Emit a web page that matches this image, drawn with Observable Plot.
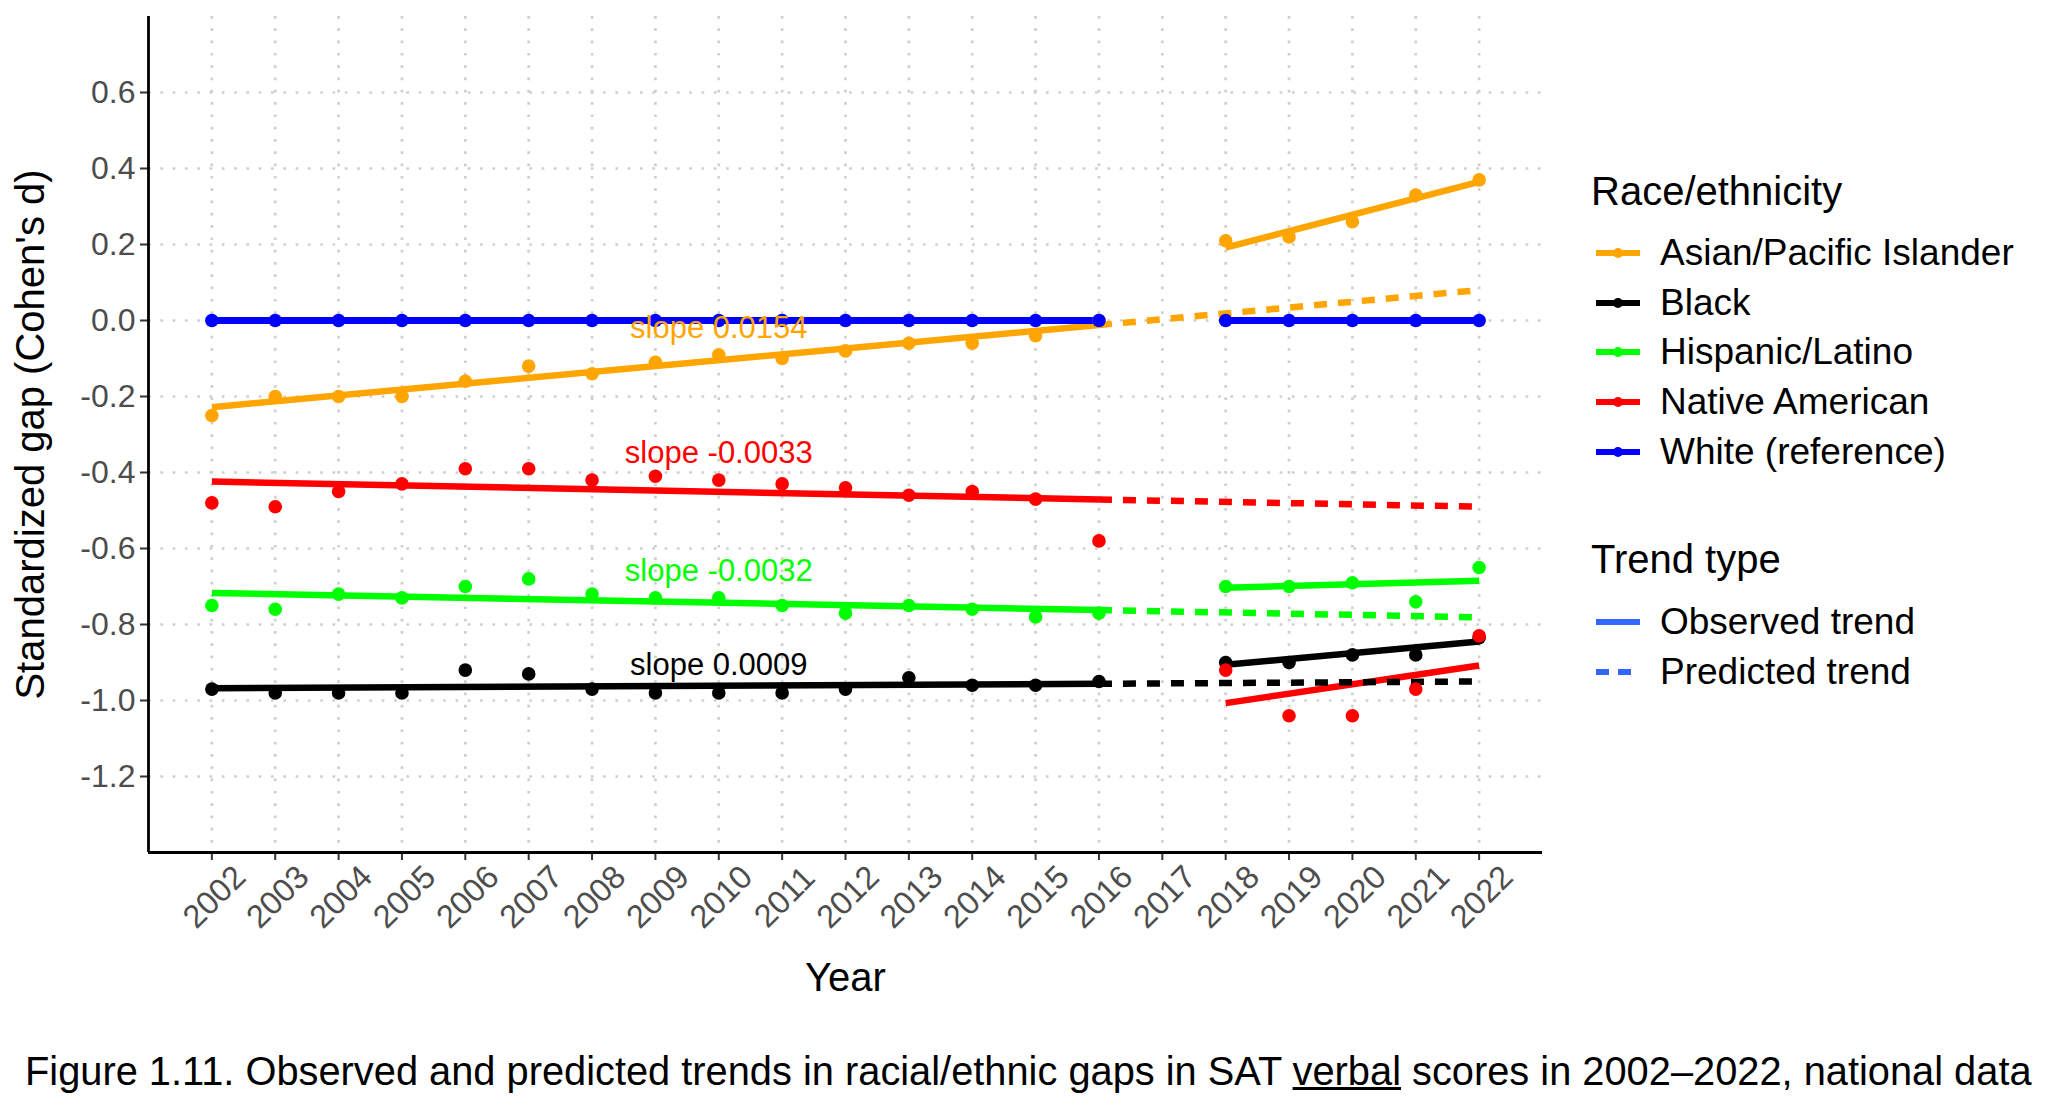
<!DOCTYPE html>
<html>
<head>
<meta charset="utf-8">
<script src="https://cdn.jsdelivr.net/npm/d3@7"></script>
<script src="https://cdn.jsdelivr.net/npm/@observablehq/plot@0.6"></script>
<style>
  html, body { margin: 0; padding: 0; background: #fff; }
  body { font-family: "Liberation Sans", Arial, Helvetica, sans-serif; }
  #wrap { position: relative; width: 2048px; height: 1117px; overflow: hidden; background: #fff; }
  #chart { position: absolute; left: 0; top: 0; }
  .legend { position: absolute; left: 1591px; color: #000; }
  .ltitle { position: absolute; white-space: nowrap; font-size: 40px; line-height: 40px; }
  .litem { position: absolute; white-space: nowrap; font-size: 37px; line-height: 40px; }
  .litem svg { position: absolute; left: 5px; top: 0; }
  .litem span { position: absolute; left: 69px; top: 0; }
  #caption { position: absolute; left: 25px; top: 1049px; font-size: 39.8px; line-height: 44px; color: #000; white-space: nowrap; }
</style>
</head>
<body>
<div id="wrap">
  <div id="chart"></div>
  <div class="legend" id="legend"></div>
  <div id="caption">Figure 1.11. Observed and predicted trends in racial/ethnic gaps in SAT <u>verbal</u> scores in 2002–2022, national data</div>
</div>
<script>
// ---------------- data ----------------
const years = [2002, 2003, 2004, 2005, 2006, 2007, 2008, 2009, 2010, 2011, 2012, 2013, 2014, 2015, 2016,
               2018, 2019, 2020, 2021, 2022];
const axisYears = [2002, 2003, 2004, 2005, 2006, 2007, 2008, 2009, 2010, 2011, 2012, 2013, 2014, 2015, 2016,
                   2017, 2018, 2019, 2020, 2021, 2022];
const yTicks = [-1.2, -1.0, -0.8, -0.6, -0.4, -0.2, 0.0, 0.2, 0.4, 0.6];

const groups = ["Asian/Pacific Islander", "Black", "Hispanic/Latino", "Native American", "White (reference)"];
const groupColors = ["#FFA500", "#000000", "#00FF00", "#FF0000", "#0000FF"];

const asian    = [-0.25, -0.20, -0.20, -0.20, -0.16, -0.12, -0.14, -0.11, -0.09, -0.10, -0.08, -0.06, -0.06, -0.04, 0.00,
                   0.21, 0.22, 0.26, 0.33, 0.37];
const black    = [-0.97, -0.98, -0.98, -0.98, -0.92, -0.93, -0.97, -0.98, -0.98, -0.98, -0.97, -0.94, -0.96, -0.96, -0.95,
                  -0.90, -0.90, -0.88, -0.88, -0.835];
const hispanic = [-0.75, -0.76, -0.72, -0.73, -0.70, -0.68, -0.72, -0.73, -0.73, -0.75, -0.77, -0.75, -0.76, -0.78, -0.77,
                  -0.70, -0.70, -0.69, -0.74, -0.65];
const native   = [-0.48, -0.49, -0.45, -0.43, -0.39, -0.39, -0.42, -0.41, -0.42, -0.43, -0.44, -0.46, -0.45, -0.47, -0.58,
                  -0.92, -1.04, -1.04, -0.97, -0.83];
const white    = [0, 0, 0, 0, 0, 0, 0, 0, 0, 0, 0, 0, 0, 0, 0,
                  0, 0, 0, 0, 0];

// fitted trends, for the four non-reference groups
const trendGroups = ["Asian/Pacific Islander", "Black", "Hispanic/Latino", "Native American"];
const earlyFitYears = [2002, 2016];
const earlyFitStart = [-0.228, -0.968, -0.717, -0.424];
const earlyFitEnd   = [-0.012, -0.956, -0.762, -0.471];
const predYears = [2016, 2022];
const predEnd = [0.080, -0.950, -0.781, -0.490];
const lateFitYears = [2018, 2022];
const lateFitStart = [0.192, -0.906, -0.703, -1.007];
const lateFitEnd   = [0.365, -0.845, -0.685, -0.908];

const slopeText = ["slope 0.0154", "slope 0.0009", "slope -0.0032", "slope -0.0033"];
const slopeX = 2010;
const slopeY = [-0.020, -0.908, -0.659, -0.348];

const trendLegend = ["Observed trend", "Predicted trend"];
const trendLegendColor = "#3366FF";

// ---------------- build tables ----------------
const seriesValues = [asian, black, hispanic, native, white];
const points = [];
groups.forEach((g, gi) => {
  years.forEach((yr, i) => {
    const v = seriesValues[gi][i];
    if (v != null) points.push({group: g, year: yr, value: v, period: yr <= 2016 ? "early" : "late"});
  });
});
const whiteRows = points.filter(d => d.group === "White (reference)");
const otherPoints = points.filter(d => d.group !== "White (reference)");

const earlyLinks = trendGroups.map((g, i) => ({group: g, x1: earlyFitYears[0], y1: earlyFitStart[i], x2: earlyFitYears[1], y2: earlyFitEnd[i]}));
const predLinks  = trendGroups.map((g, i) => ({group: g, x1: predYears[0], y1: earlyFitEnd[i], x2: predYears[1], y2: predEnd[i]}));
const lateLinks  = trendGroups.map((g, i) => ({group: g, x1: lateFitYears[0], y1: lateFitStart[i], x2: lateFitYears[1], y2: lateFitEnd[i]}));
const labels = trendGroups.map((g, i) => ({group: g, text: slopeText[i], x: slopeX, y: slopeY[i]}));

// ---------------- plot ----------------
const W = 2048, H = 1030;
const chart = Plot.plot({
  width: W,
  height: H,
  marginLeft: 148,
  marginRight: 506,
  marginTop: 16,
  marginBottom: 178,
  style: {fontFamily: '"Liberation Sans", Arial, Helvetica, sans-serif', background: "#fff", overflow: "visible"},
  x: {type: "linear", domain: [2001, 2023]},
  y: {domain: [-1.4, 0.8]},
  color: {domain: groups, range: groupColors},
  marks: [
    Plot.gridY(yTicks, {stroke: "#cfcfcf", strokeOpacity: 1, strokeWidth: 2.7, strokeDasharray: "2.7,9.6"}),
    Plot.gridX(axisYears, {stroke: "#cfcfcf", strokeOpacity: 1, strokeWidth: 2.7, strokeDasharray: "2.7,9.6"}),
    Plot.axisY(yTicks, {tickSize: 8, tickPadding: 5, stroke: "#333333", strokeWidth: 2, fill: "#4D4D4D",
      fontSize: 32, label: null, tickFormat: d => d.toFixed(1)}),
    Plot.axisX(axisYears, {tickSize: 8, stroke: "#333333", strokeWidth: 2, label: null, tickFormat: () => ""}),
    Plot.text(axisYears, {x: d => d, text: d => String(d), frameAnchor: "bottom", rotate: -45,
      dx: 10, dy: 52, fontSize: 32.5, fill: "#4D4D4D", textAnchor: "middle"}),
    // trend lines
    Plot.link(earlyLinks, {x1: "x1", y1: "y1", x2: "x2", y2: "y2", stroke: "group", strokeWidth: 6.5, strokeLinecap: "butt"}),
    Plot.link(lateLinks, {x1: "x1", y1: "y1", x2: "x2", y2: "y2", stroke: "group", strokeWidth: 6.5, strokeLinecap: "butt"}),
    Plot.link(predLinks, {x1: "x1", y1: "y1", x2: "x2", y2: "y2", stroke: "group", strokeWidth: 6.5, strokeLinecap: "butt", strokeDasharray: "13,11"}),
    Plot.line(whiteRows, {x: "year", y: "value", z: "period", stroke: "group", strokeWidth: 7, strokeLinecap: "butt"}),
    // points
    Plot.dot(otherPoints, {x: "year", y: "value", fill: "group", r: 6.8}),
    Plot.dot(whiteRows, {x: "year", y: "value", fill: "group", r: 6.8}),
    // slope labels
    Plot.text(labels, {x: "x", y: "y", text: "text", fill: "group", fontSize: 31, textAnchor: "middle"}),
    // axis lines
    Plot.ruleX([2001], {stroke: "#000", strokeWidth: 2.8}),
    Plot.ruleY([-1.4], {stroke: "#000", strokeWidth: 2.8}),
    // axis titles
    Plot.text(["Standardized gap (Cohen's d)"], {frameAnchor: "left", rotate: -90, dx: -117, fontSize: 40, fill: "#000", textAnchor: "middle"}),
    Plot.text(["Year"], {frameAnchor: "bottom", dy: 138, fontSize: 40, fill: "#000", textAnchor: "middle"})
  ]
});
document.getElementById("chart").appendChild(chart);

// ---------------- legend (HTML) ----------------
const legend = document.getElementById("legend");
function addTitle(text, cy) {
  const t = document.createElement("div");
  t.className = "ltitle";
  t.style.top = (cy - 20) + "px";
  t.textContent = text;
  legend.appendChild(t);
}
function addItem(label, cy, keySvg) {
  const d = document.createElement("div");
  d.className = "litem";
  d.style.top = (cy - 20) + "px";
  d.innerHTML = keySvg + "<span></span>";
  d.querySelector("span").textContent = label;
  legend.appendChild(d);
}
const raceTitleY = 191, raceItemY0 = 253, itemStep = 49.7;
addTitle("Race/ethnicity", raceTitleY);
groups.forEach((g, i) => {
  const c = groupColors[i];
  const svg = `<svg width="44" height="40"><line x1="0" x2="44" y1="20" y2="20" stroke="${c}" stroke-width="6"/><circle cx="22" cy="20" r="5" fill="${c}"/></svg>`;
  addItem(g, raceItemY0 + i * itemStep, svg);
});
const trendTitleY = 559, trendItemY0 = 622;
addTitle("Trend type", trendTitleY);
trendLegend.forEach((t, i) => {
  const dash = i === 1 ? ` stroke-dasharray="13,9"` : "";
  const svg = `<svg width="44" height="40"><line x1="0" x2="44" y1="20" y2="20" stroke="${trendLegendColor}" stroke-width="6"${dash}/></svg>`;
  addItem(t, trendItemY0 + i * itemStep, svg);
});
</script>
</body>
</html>
